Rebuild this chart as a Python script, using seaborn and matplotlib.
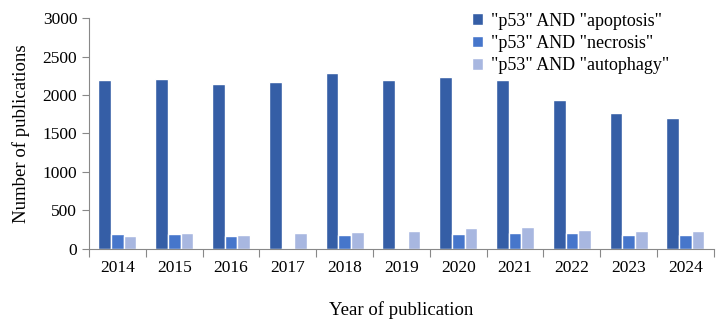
import matplotlib.pyplot as plt
import seaborn as sns
import pandas as pd

years = ["2014", "2015", "2016", "2017", "2018", "2019", "2020", "2021", "2022", "2023", "2024"]
apoptosis = [2190, 2210, 2140, 2165, 2285, 2200, 2240, 2190, 1940, 1760, 1700]
necrosis = [197, 200, 172, 12, 183, 12, 200, 205, 212, 178, 178]
autophagy = [165, 205, 182, 205, 222, 235, 275, 287, 252, 235, 235]
series = ['"p53" AND "apoptosis"', '"p53" AND "necrosis"', '"p53" AND "autophagy"']
colors = ["#355EA6", "#4676CB", "#A8B7E0"]

df = pd.DataFrame({
    "year": years * 3,
    "count": apoptosis + necrosis + autophagy,
    "query": [series[0]] * 11 + [series[1]] * 11 + [series[2]] * 11,
})

sns.set_theme(style="white")
plt.rcParams["font.family"] = ["Liberation Serif", "DejaVu Serif"]
plt.rcParams["text.color"] = "black"
plt.rcParams["axes.labelcolor"] = "black"

fig = plt.figure(figsize=(7.24, 3.22), dpi=100)
ax = fig.add_axes([0.123, 0.227, 0.863, 0.717])
sns.barplot(data=df, x="year", y="count", hue="query", order=years,
            hue_order=series, palette=colors, width=0.67, gap=0,
            saturation=1, ax=ax)

ax.set_xlim(-0.5, 10.5)
ax.set_ylim(0, 3000)
ax.set_yticks(range(0, 3001, 500))
ax.set_xticks([i - 0.5 for i in range(12)], minor=True)
ax.tick_params(axis="x", which="major", length=0, pad=8, labelsize=12.5, labelcolor="black")
ax.tick_params(axis="x", which="minor", length=6, width=0.8, color="#888888", direction="out", bottom=True)
ax.tick_params(axis="y", length=5, width=0.8, color="#888888", direction="out", left=True,
               labelsize=12.5, labelcolor="black")
for s in ["top", "right"]:
    ax.spines[s].set_visible(False)
for s in ["left", "bottom"]:
    ax.spines[s].set_color("#888888")
    ax.spines[s].set_linewidth(0.8)

ax.set_xlabel("Year of publication", fontsize=13.5, labelpad=18)
ax.set_ylabel("Number of publications", fontsize=13.5, labelpad=9)

ax.legend(loc="upper left", bbox_to_anchor=(0.601, 1.055), frameon=False,
          fontsize=13, handlelength=0.6, handleheight=0.6, handletextpad=0.45,
          labelspacing=0.3, borderaxespad=0)

fig.savefig("out.png", dpi=100)
